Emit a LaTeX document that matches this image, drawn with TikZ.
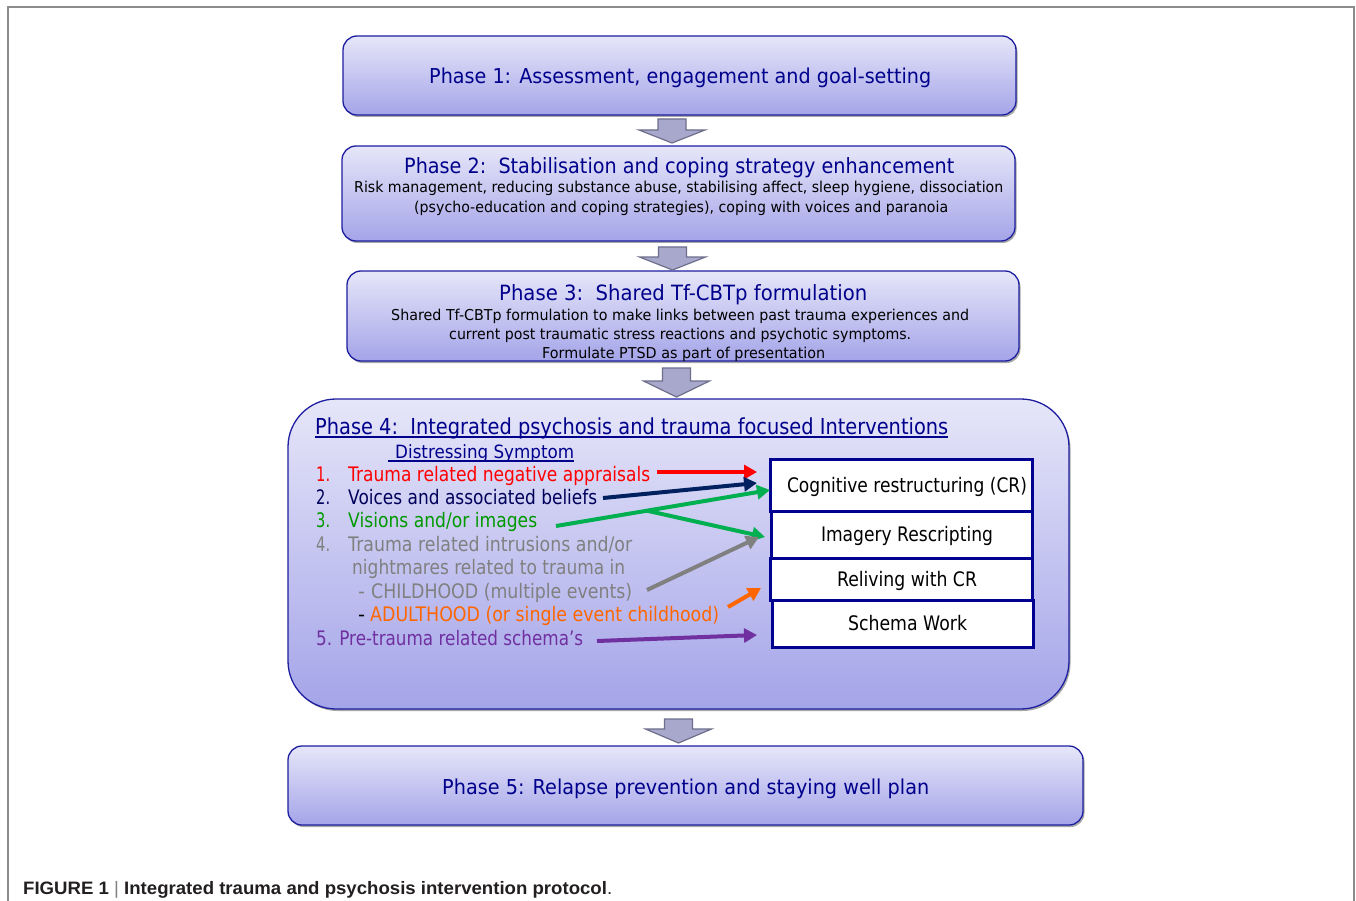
\documentclass[tikz,border=0pt]{standalone}
\usepackage{fontspec}
\setmainfont{DejaVu Sans}
\newfontfamily\capfont{Liberation Sans}
\usepackage{graphicx}
\usetikzlibrary{arrows.meta,shadows,calc}
\definecolor{tblue}{RGB}{0,0,140}
\definecolor{bord}{RGB}{30,30,160}
\definecolor{gtop}{RGB}{230,230,249}
\definecolor{gbot}{RGB}{164,164,233}
\definecolor{ibord}{RGB}{0,0,145}
\definecolor{afill}{RGB}{168,168,204}
\definecolor{aedge}{RGB}{110,110,140}
\definecolor{cred}{RGB}{255,0,0}
\definecolor{cnavytxt}{RGB}{0,0,90}
\definecolor{cnavy}{RGB}{0,32,96}
\definecolor{cgreentxt}{RGB}{0,153,0}
\definecolor{cgreen}{RGB}{0,176,80}
\definecolor{cgray}{RGB}{128,128,128}
\definecolor{corange}{RGB}{255,102,0}
\definecolor{cpurple}{RGB}{112,48,160}
\definecolor{framec}{RGB}{140,140,140}
\definecolor{captxt}{RGB}{35,31,32}
\newcommand\fitw[2]{\setbox0=\hbox{#2}\pgfmathsetmacro\fitsx{#1/\the\wd0}\scalebox{\fitsx}[1]{\box0}}
\newcommand\fsz[1]{\fontsize{#1}{#1}\selectfont}
\newcommand\pharr[4]{\draw[darr] (#1-14,#2) -- (#1+14,#2) -- (#1+14,#3) -- (#1+33,#3) -- (#1,#4) -- (#1-33,#3) -- (#1-14,#3) -- cycle;}
\tikzset{
  phase/.style={draw=bord, line width=1.3pt, rounded corners=14pt, top color=gtop, bottom color=gbot,
    drop shadow={shadow xshift=1.5pt, shadow yshift=-2pt, opacity=0.35, fill=black}},
  ibox/.style={draw=ibord, line width=3pt, fill=white, inner sep=0pt, text height=14pt, text depth=0pt},
  txt/.style={inner sep=0pt, anchor=base west},
  sarr/.style={line width=4pt, -{Triangle[length=13pt,width=14pt]}},
  darr/.style={fill=afill, draw=aedge, line width=1.2pt, line join=miter}
}
\begin{document}
\begin{tikzpicture}[x=1pt,y=-1pt]
\useasboundingbox (0,0) rectangle (1356,901);
\fill[white] (0,0) rectangle (1356,901);
\draw[framec, line width=1.5pt] (8,901) -- (8,7) -- (1354,7) -- (1354,901);

% phase boxes
\node[phase, minimum width=673pt, minimum height=79pt] (p1) at (679.5,75.5) {};
\node[phase, minimum width=673pt, minimum height=95pt] (p2) at (678.5,193.5) {};
\node[phase, minimum width=672pt, minimum height=90pt] (p3) at (683,316) {};
\node[phase, minimum width=781pt, minimum height=310pt, rounded corners=48pt] (p4) at (678.5,554) {};
\node[phase, minimum width=795pt, minimum height=79pt] (p5) at (685.5,785.5) {};

% block arrows between phases
\pharr{672}{119}{130}{143}
\pharr{672.5}{247}{257}{270}
\pharr{676.5}{368}{381}{397}
\pharr{678.5}{719}{729}{743}

% phase texts
\node[txt, text=tblue] (t1) at (429,83.5) {\fsz{20.5}\fitw{502}{Phase 1: Assessment, engagement and goal-setting}};
\node[txt, text=tblue] (t2) at (404,174) {\fsz{21}\fitw{550}{Phase 2:\ \ Stabilisation and coping strategy enhancement}};
\node[txt] (t2a) at (354,193) {\fsz{15}\fitw{649}{Risk management, reducing substance abuse, stabilising affect, sleep hygiene, dissociation}};
\node[txt] (t2b) at (414,213) {\fsz{15}\fitw{534}{(psycho-education and coping strategies), coping with voices and paranoia}};
\node[txt, text=tblue] (t3) at (499,300) {\fsz{21}\fitw{368}{Phase 3:\ \ Shared Tf-CBTp formulation}};
\node[txt] (t3a) at (391,320) {\fsz{15}\fitw{578}{Shared Tf-CBTp formulation to make links between past trauma experiences and}};
\node[txt] (t3b) at (449,339) {\fsz{15}\fitw{462}{current post traumatic stress reactions and psychotic symptoms.}};
\node[txt] (t3c) at (542,358) {\fsz{15}\fitw{283}{Formulate PTSD as part of presentation}};
\node[txt, text=tblue] (t4) at (315,434) {\fsz{22}\fitw{633}{Phase 4:\ \ Integrated psychosis and trauma focused Interventions}};
\draw[tblue, line width=1.3pt] ($(t4.base west)+(0,3)$) -- ($(t4.base east)+(0,3)$);
\node[txt, text=tblue] (ds) at (395,458) {\fsz{18.3}\fitw{179}{Distressing Symptom}};
\coordinate (dsu) at (388,461);
\draw[tblue, line width=1.3pt] (dsu) -- (dsu -| ds.east);
\node[txt, text=tblue] (t5) at (442,794.5) {\fsz{20.5}\fitw{487}{Phase 5: Relapse prevention and staying well plan}};

% symptom list
\node[txt, text=cred] (n1) at (316,481) {\fsz{20}\fitw{14}{1.}};
\node[txt, text=cred] (s1) at (348,481) {\fsz{20}\fitw{302}{Trauma related negative appraisals}};
\node[txt, text=cnavytxt] (n2) at (316,504) {\fsz{20}\fitw{14}{2.}};
\node[txt, text=cnavytxt] (s2) at (348,504) {\fsz{20}\fitw{249}{Voices and associated beliefs}};
\node[txt, text=cgreentxt] (n3) at (316,527) {\fsz{20}\fitw{14}{3.}};
\node[txt, text=cgreentxt] (s3) at (348,527) {\fsz{20}\fitw{189}{Visions and/or images}};
\node[txt, text=cgray] (n4) at (316,551) {\fsz{20}\fitw{14}{4.}};
\node[txt, text=cgray] (s4) at (348,551) {\fsz{20}\fitw{284}{Trauma related intrusions and/or}};
\node[txt, text=cgray] (s4b) at (352,574) {\fsz{20}\fitw{273}{nightmares related to trauma in}};
\node[txt, text=cgray] (d4c) at (358,598) {\fsz{20}\fitw{7}{-}};
\node[txt, text=cgray] (s4c) at (371,598) {\fsz{20}\fitw{261}{CHILDHOOD (multiple events)}};
\node[txt, text=black] (d4d) at (358,621) {\fsz{20}\fitw{7}{-}};
\node[txt, text=corange] (s4d) at (370,621) {\fsz{20}\fitw{349}{ADULTHOOD (or single event childhood)}};
\node[txt, text=cpurple] (s5) at (316,645) {\fsz{20}\fitw{267}{5. Pre-trauma related schema’s}};

% intervention boxes
\node[ibox, minimum width=262pt, minimum height=52pt] (cr) at (901,485) {\hspace*{12pt}\fsz{20}\fitw{240}{Cognitive restructuring (CR)}};
\node[ibox, minimum width=261pt, minimum height=47pt] (ir) at (901.5,534.5) {\hspace*{11pt}\fsz{20}\fitw{172}{Imagery Rescripting}};
\node[ibox, minimum width=262pt, minimum height=42pt] (rw) at (901,579) {\hspace*{12pt}\fsz{20}\fitw{140}{Reliving with CR}};
\node[ibox, minimum width=261pt, minimum height=47pt] (sw) at (902.5,623.5) {\hspace*{10pt}\fsz{20}\fitw{119}{Schema Work}};

% connectors
\coordinate (rs) at (657,472);  \coordinate (re) at (757,472);
\coordinate (ns) at (603,498);  \coordinate (ne) at (757,483);
\coordinate (gs) at (556,526);  \coordinate (ge1) at (770,490);
\coordinate (gb) at ($(gs)!0.425!(ge1)$); \coordinate (ge2) at (765,537);
\coordinate (ys) at (647,590);  \coordinate (ye) at (759,537);
\coordinate (os) at (728,607);  \coordinate (oe) at (761,588);
\coordinate (ps) at (597,641);  \coordinate (pe) at (757,635);
\draw[sarr, cred] (rs) -- (re);
\draw[sarr, cnavy] (ns) -- (ne);
\draw[sarr, cgreen] (gs) -- (ge1);
\draw[sarr, cgreen] (gb) -- (ge2);
\draw[sarr, cgray] (ys) -- (ye);
\draw[sarr, corange] (os) -- (oe);
\draw[sarr, cpurple] (ps) -- (pe);

% caption
\node[txt, text=captxt] (cap) at (23,894) {\capfont\fsz{18}\fitw{589}{\bfseries FIGURE 1 {\mdseries\color{gray}|} Integrated trauma and psychosis intervention protocol\mdseries.}};
\end{tikzpicture}
\end{document}
